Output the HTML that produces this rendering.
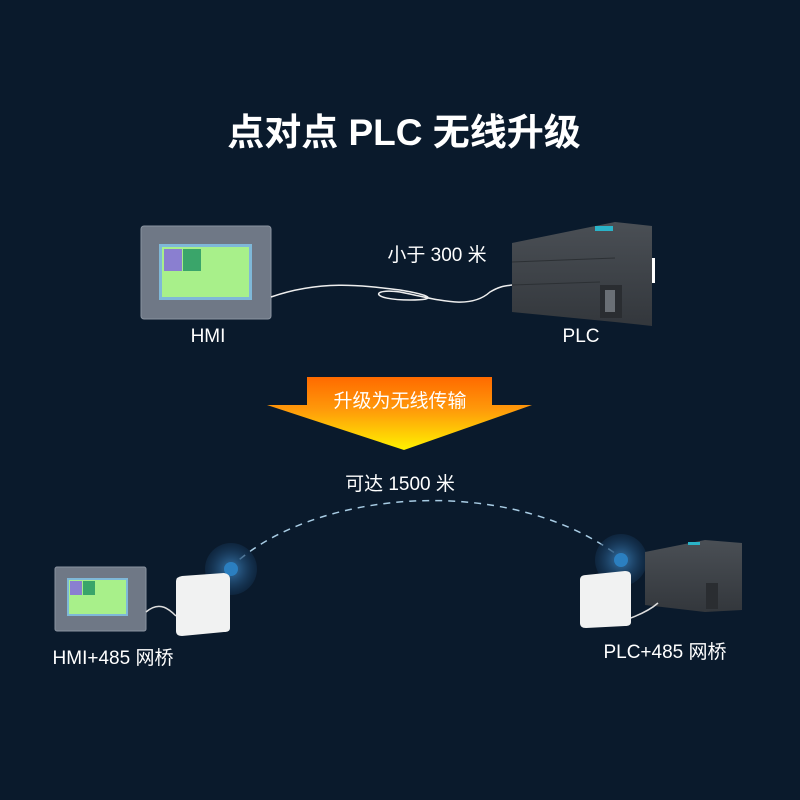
<!DOCTYPE html>
<html><head><meta charset="utf-8"><style>
html,body{margin:0;padding:0;background:#0a1a2c;}
svg{display:block}
text{font-family:"Liberation Sans","Noto Sans CJK SC",sans-serif;fill:#fff}
</style></head><body>
<svg width="800" height="800" viewBox="0 0 800 800" xmlns="http://www.w3.org/2000/svg">
<defs>
<linearGradient id="ar" x1="0" y1="0" x2="0" y2="1">
<stop offset="0" stop-color="#ff6a00"/><stop offset="0.45" stop-color="#ff9a0a"/><stop offset="1" stop-color="#fff200"/>
</linearGradient>
<linearGradient id="plc" x1="0" y1="0" x2="0" y2="1">
<stop offset="0" stop-color="#4a4f55"/><stop offset="1" stop-color="#33373c"/>
</linearGradient>
<radialGradient id="wv"><stop offset="0.3" stop-color="#2a5d8a" stop-opacity="0.9"/><stop offset="1" stop-color="#15375a" stop-opacity="0.4"/></radialGradient>
</defs>
<rect width="800" height="800" fill="#0a1a2c"/>
<text x="404" y="145" font-size="37" font-weight="bold" text-anchor="middle">点对点 PLC 无线升级</text>

<!-- HMI top -->
<rect x="141" y="226" width="130" height="93" rx="3" fill="#6f7886" stroke="#8a93a0"/>
<rect x="159" y="244" width="93" height="56" fill="#7fb8d8"/>
<rect x="162" y="247" width="87" height="50" fill="#a8f08a"/>
<rect x="164" y="249" width="18" height="22" fill="#8a7fd0"/>
<rect x="183" y="249" width="18" height="22" fill="#3aa56a"/>

<!-- cable -->
<path d="M271 297 C320 280 360 285 400 290 C430 295 440 300 410 300 C370 300 370 288 400 292 C440 300 470 310 490 292 C500 286 505 286 512 285" fill="none" stroke="#eee" stroke-width="1.5"/>
<text x="437" y="261" font-size="19" text-anchor="middle">小于 300 米</text>

<!-- PLC top -->
<polygon points="512,243 615,222 652,226 652,326 615,322 512,312" fill="url(#plc)"/>
<line x1="512" y1="262" x2="615" y2="258" stroke="#2c3034"/>
<line x1="512" y1="285" x2="600" y2="282" stroke="#2c3034"/>
<rect x="595" y="226" width="18" height="5" fill="#2ab3c8"/>
<rect x="600" y="285" width="22" height="33" fill="#2a2d31"/>
<rect x="605" y="290" width="10" height="22" fill="#6a6f75"/>
<rect x="652" y="258" width="3" height="25" fill="#fff"/>
<text x="208" y="342" font-size="19" text-anchor="middle">HMI</text>
<text x="581" y="342" font-size="19" text-anchor="middle">PLC</text>

<!-- arrow -->
<polygon points="307,377 492,377 492,405 532,405 404,450 267,405 307,405" fill="url(#ar)"/>
<text x="400" y="407" font-size="19" text-anchor="middle">升级为无线传输</text>

<text x="400" y="490" font-size="19" text-anchor="middle">可达 1500 米</text>
<path d="M230 568 C310 490 510 470 624 560" fill="none" stroke="#a8cce4" stroke-width="1.5" stroke-dasharray="7,6"/>

<!-- wave circles -->
<circle cx="231" cy="569" r="26" fill="url(#wv)"/><circle cx="231" cy="569" r="7" fill="#2b7fc0"/>
<circle cx="621" cy="560" r="26" fill="url(#wv)"/><circle cx="621" cy="560" r="7" fill="#2b7fc0"/>

<!-- HMI bottom -->
<rect x="55" y="567" width="91" height="64" rx="2" fill="#6f7886" stroke="#8a93a0"/>
<rect x="67" y="578" width="61" height="38" fill="#7fb8d8"/>
<rect x="69" y="580" width="57" height="34" fill="#a8f08a"/>
<rect x="70" y="581" width="12" height="14" fill="#8a7fd0"/>
<rect x="83" y="581" width="12" height="14" fill="#3aa56a"/>
<path d="M146 612 C160 600 170 610 176 616" fill="none" stroke="#ddd" stroke-width="1.5"/>
<!-- bridge left -->
<path d="M176 581 Q176 577 182 576 L224 573 Q230 574 230 579 L230 628 Q230 632 224 632 L182 636 Q176 636 176 631 Z" fill="#f1f2f2"/>
<!-- PLC bottom -->
<polygon points="645,552 705,540 742,543 742,610 705,612 645,605" fill="url(#plc)"/>
<rect x="688" y="542" width="12" height="3" fill="#2ab3c8"/>
<rect x="706" y="583" width="12" height="26" fill="#2a2d31"/>
<path d="M625 620 C640 615 650 610 658 603" fill="none" stroke="#ddd" stroke-width="1.5"/>
<path d="M580 580 Q580 575 586 575 L625 571 Q631 571 631 576 L631 622 Q631 626 625 626 L586 628 Q580 628 580 623 Z" fill="#f1f2f2"/>

<text x="113" y="664" font-size="19" text-anchor="middle">HMI+485 网桥</text>
<text x="665" y="658" font-size="19" text-anchor="middle">PLC+485 网桥</text>
</svg>
</body></html>
